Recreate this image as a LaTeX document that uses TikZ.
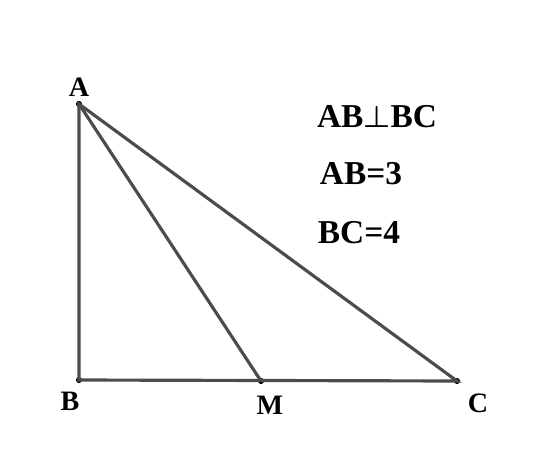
\documentclass[tikz,border=0pt]{standalone}
\usepackage{amsmath}
\usepackage{fontspec}
\setmainfont{Liberation Serif}
\usetikzlibrary{positioning}

\begin{document}
\begin{tikzpicture}[
    x=0.02cm, y=-0.02cm,
    side/.style={draw=black!70, line width=1.8pt},
    vertex/.style={circle, fill=black, inner sep=0pt, minimum size=3.5pt},
    lbl/.style={font=\fontsize{16}{18}\selectfont\bfseries},
    fact/.style={font=\fontsize{19}{22}\selectfont\bfseries}
]
\useasboundingbox (0,0) rectangle (559,451);
\node[vertex] (A) at (79,104) {};
\node[vertex] (B) at (79,380) {};
\node[vertex] (M) at (261,381) {};
\node[vertex] (C) at (457,381) {};
\draw[side] (A.center) -- (B.center) -- (C.center) -- cycle;
\draw[side] (A.center) -- (M.center);
\node[lbl] (lA) at (79,87) {A};
\node[lbl] (lB) at (70,401) {B};
\node[lbl] (lM) at (270,405) {M};
\node[lbl] (lC) at (478,403) {C};
\node[fact] (f1) at (377,117) {AB$\boldsymbol{\perp}$BC};
\node[fact] (f2) at (361,174) {AB=3};
\node[fact] (f3) at (359,233) {BC=4};
\end{tikzpicture}
\end{document}
